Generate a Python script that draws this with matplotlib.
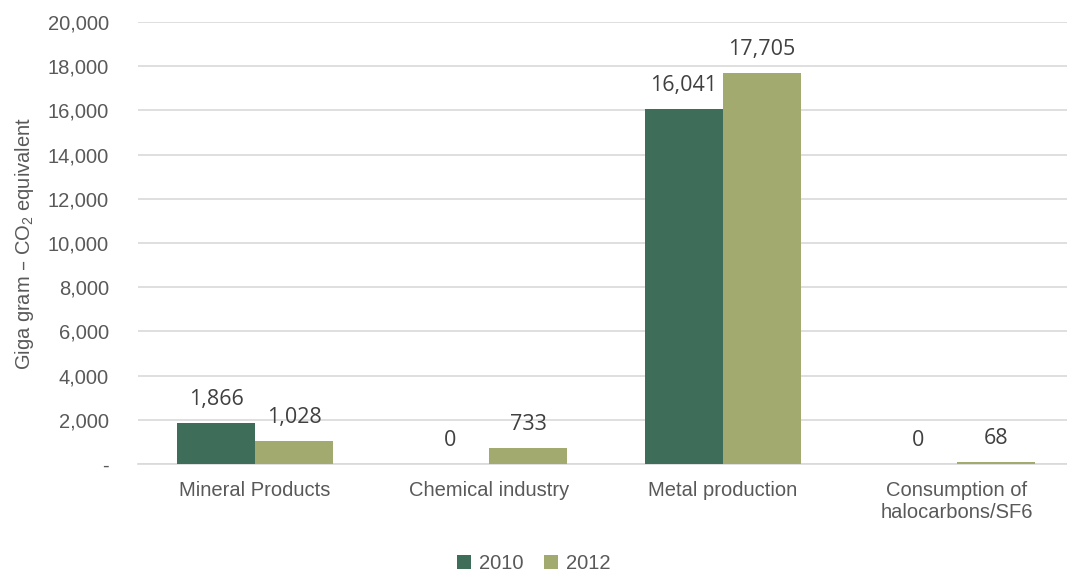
import numpy as np
import matplotlib.pyplot as plt
from matplotlib.ticker import FuncFormatter

categories = ["Mineral Products", "Chemical industry", "Metal production", "Consumption of\nhalocarbons/SF6"]
years = ["2010", "2012"]
vals_2010 = [1866, 0, 16041, 0]
vals_2012 = [1028, 733, 17705, 68]

plt.rcParams['font.family'] = ['Liberation Sans', 'DejaVu Sans']
plt.rcParams['mathtext.default'] = 'regular'

grey = "#595959"
col_2010 = "#3E6E59"
col_2012 = "#A2AA70"

fig = plt.figure(figsize=(10.67, 5.71), dpi=100)
# plot area runs a little past the right edge, like the original
ax = fig.add_axes([0.1293, 0.1874, 0.8772, 0.7741])

x = np.arange(len(categories))
w = 1 / 3
b1 = ax.bar(x - w / 2, vals_2010, w, color=col_2010, label=years[0], zorder=3)
b2 = ax.bar(x + w / 2, vals_2012, w, color=col_2012, label=years[1], zorder=3)

for bars in (b1, b2):
    for r in bars:
        v = r.get_height()
        ax.annotate(f"{v:,.0f}", (r.get_x() + r.get_width() / 2, v),
                    xytext=(0, 17), textcoords="offset points",
                    ha="center", va="center", fontsize=15.5, color="#404040",
                    family=["Open Sans", "DejaVu Sans"])

ax.set_xlim(-0.5, 3.5)
ax.set_ylim(0, 20000)
ax.set_yticks(np.arange(0, 20001, 2000))
ax.yaxis.set_major_formatter(FuncFormatter(lambda v, p: "-" if v == 0 else f"{v:,.0f}"))
ax.set_xticks(x)
ax.set_xticklabels(categories)
ax.tick_params(axis="both", length=0, labelsize=14.5, colors=grey)
ax.tick_params(axis="x", pad=12)
ax.tick_params(axis="y", pad=21)

ax.grid(axis="y", color="#D9D9D9", linewidth=1.2, zorder=0)
for s in ["top", "right", "left"]:
    ax.spines[s].set_visible(False)
ax.spines["bottom"].set_color("#D9D9D9")
ax.spines["bottom"].set_linewidth(1.2)

ax.set_ylabel("Giga gram – CO$_2$ equivalent", fontsize=14.5, color=grey, labelpad=8)

fig.legend(handles=[b1, b2], loc="lower center", bbox_to_anchor=(0.5, -0.035), ncol=2,
           frameon=False, fontsize=14.5, handlelength=0.7, handleheight=0.7,
           handletextpad=0.4, columnspacing=1.0, labelcolor=grey)

fig.savefig("out.png", dpi=100)
